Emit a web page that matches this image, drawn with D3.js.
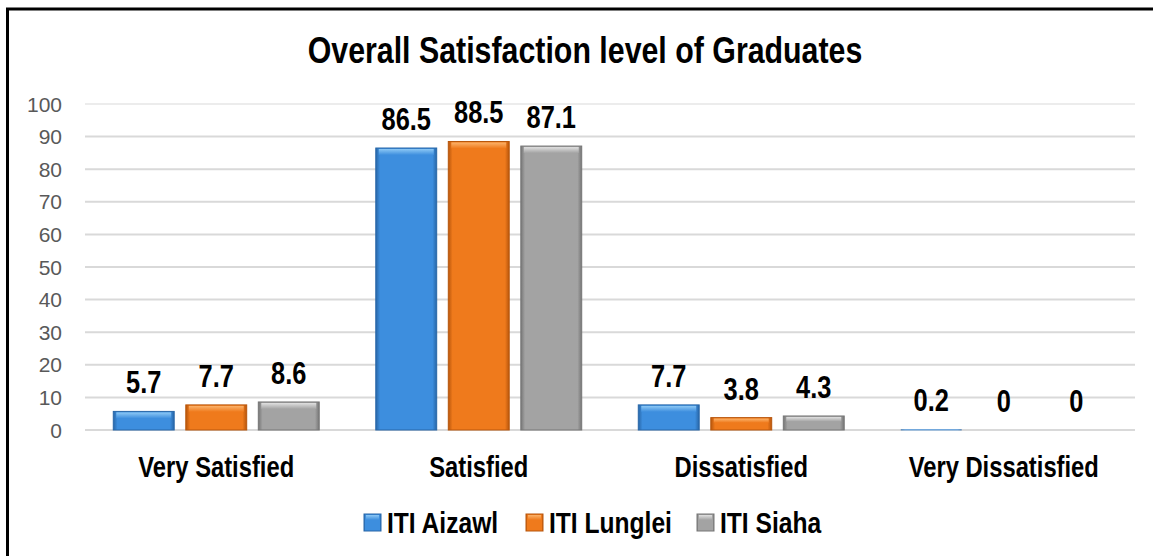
<!DOCTYPE html>
<html>
<head>
  <meta charset="utf-8">
  <title>Overall Satisfaction level of Graduates</title>
  <script src="https://d3js.org/d3.v7.min.js"></script>
  <style>
    body {
      margin: 0;
      background: #fff;
    }
    .narrow {
      font-family: "Liberation Sans", Arial, sans-serif;
      font-weight: bold;
      fill: #000;
    }
    .tick-label {
      font-family: "Liberation Sans", Arial, sans-serif;
      font-size: 21px;
      fill: #595959;
    }
  </style>
</head>
<body>
  <div id="chart"></div>
  <script>
    const categories = ["Very Satisfied", "Satisfied", "Dissatisfied", "Very Dissatisfied"];
    const seriesNames = ["ITI Aizawl", "ITI Lunglei", "ITI Siaha"];
    const aizawl = [5.7, 86.5, 7.7, 0.2];
    const lunglei = [7.7, 88.5, 3.8, 0];
    const siaha = [8.6, 87.1, 4.3, 0];
    const yTicks = [0, 10, 20, 30, 40, 50, 60, 70, 80, 90, 100];

    const seriesValues = [aizawl, lunglei, siaha];
    // edge / body / highlight for the bevelled look
    const palette = [
      { edge: "#2867a8", body: "#3d8ede", light: "#8cc8f5" },
      { edge: "#b8560c", body: "#ef7a1c", light: "#fbb26a" },
      { edge: "#767676", body: "#a3a3a3", light: "#e0e0e0" }
    ];

    const W = 1153, H = 556;
    const NARROW = 0.82; // squeeze Liberation Sans into an Arial Narrow look
    const svg = d3.select("#chart").append("svg")
      .attr("width", W)
      .attr("height", H);

    // place a condensed bold text at (x, y)
    function narrowAt(sel, x, y) {
      sel.attr("class", "narrow")
        .attr("transform", function (d, i) {
          const xx = typeof x === "function" ? x(d, i) : x;
          const yy = typeof y === "function" ? y(d, i) : y;
          return `translate(${xx},${yy}) scale(${NARROW},1)`;
        });
    }

    // gradients
    const defs = svg.append("defs");
    palette.forEach((c, i) => {
      const g = defs.append("linearGradient").attr("id", "body" + i)
        .attr("x1", 0).attr("x2", 1).attr("y1", 0).attr("y2", 0);
      g.append("stop").attr("offset", "0%").attr("stop-color", c.edge);
      g.append("stop").attr("offset", "7%").attr("stop-color", c.body);
      g.append("stop").attr("offset", "50%").attr("stop-color", c.body);
      g.append("stop").attr("offset", "93%").attr("stop-color", c.body);
      g.append("stop").attr("offset", "100%").attr("stop-color", c.edge);
      const t = defs.append("linearGradient").attr("id", "top" + i)
        .attr("x1", 0).attr("x2", 0).attr("y1", 0).attr("y2", 1);
      t.append("stop").attr("offset", "0%").attr("stop-color", c.light);
      t.append("stop").attr("offset", "100%").attr("stop-color", c.body);
    });

    // frame (only top and left edges are in view)
    svg.append("line").attr("x1", 6).attr("x2", W).attr("y1", 9).attr("y2", 9)
      .attr("stroke", "#000").attr("stroke-width", 3);
    svg.append("line").attr("x1", 7.5).attr("x2", 7.5).attr("y1", 8).attr("y2", H)
      .attr("stroke", "#000").attr("stroke-width", 3);

    const x0 = d3.scaleBand().domain(categories).range([85, 1135]).paddingInner(0).paddingOuter(0);
    const x1 = d3.scaleBand().domain(seriesNames).range([0, x0.bandwidth()])
      .paddingInner(0.16).paddingOuter(0.39);
    const y = d3.scaleLinear().domain([0, 100]).range([430, 104]);

    // grid
    svg.append("g").selectAll("line")
      .data(yTicks)
      .join("line")
      .attr("x1", 85).attr("x2", 1135)
      .attr("y1", d => y(d)).attr("y2", d => y(d))
      .attr("stroke", "#d9d9d9")
      .attr("stroke-width", d => d === 100 ? 1 : 2);

    svg.append("g").selectAll("text")
      .data(yTicks)
      .join("text")
      .attr("class", "tick-label")
      .attr("x", 62)
      .attr("y", d => y(d))
      .attr("dy", "0.36em")
      .attr("text-anchor", "end")
      .text(d => d);

    // title
    svg.append("text")
      .call(narrowAt, 585, 63)
      .attr("text-anchor", "middle")
      .style("font-size", "37px")
      .text("Overall Satisfaction level of Graduates");

    // bars
    const groups = svg.append("g").selectAll("g")
      .data(categories)
      .join("g")
      .attr("transform", d => `translate(${x0(d)},0)`);

    const bars = groups.selectAll("g")
      .data((cat, ci) => seriesNames.map((s, si) => ({ cat, s, si, v: seriesValues[si][ci] })))
      .join("g");

    bars.append("rect")
      .attr("x", d => x1(d.s))
      .attr("y", d => y(d.v))
      .attr("width", x1.bandwidth())
      .attr("height", d => Math.max(y(0) - y(d.v), d.v > 0 ? 1 : 0))
      .attr("fill", d => `url(#body${d.si})`)
      .attr("stroke", d => palette[d.si].edge)
      .attr("stroke-width", d => d.v > 0.5 ? 1 : 0);

    bars.filter(d => y(0) - y(d.v) > 3)
      .append("rect")
      .attr("x", d => x1(d.s) + 3)
      .attr("y", d => y(d.v) + 1)
      .attr("width", x1.bandwidth() - 6)
      .attr("height", d => Math.min(6, (y(0) - y(d.v)) / 3))
      .attr("fill", d => `url(#top${d.si})`);

    bars.append("text")
      .call(narrowAt, d => x1(d.s) + x1.bandwidth() / 2, d => y(d.v) - 18)
      .attr("text-anchor", "middle")
      .style("font-size", "31px")
      .text(d => d.v);

    // category labels
    svg.append("g").selectAll("text")
      .data(categories)
      .join("text")
      .call(narrowAt, d => x0(d) + x0.bandwidth() / 2, 477)
      .attr("text-anchor", "middle")
      .style("font-size", "29px")
      .text(d => d);

    // legend
    const legendX = [364, 526, 697];
    const legend = svg.append("g").selectAll("g")
      .data(seriesNames)
      .join("g")
      .attr("transform", (d, i) => `translate(${legendX[i]},514)`);

    legend.append("rect")
      .attr("width", 17).attr("height", 17)
      .attr("fill", (d, i) => `url(#body${i})`)
      .attr("stroke", (d, i) => palette[i].edge)
      .attr("stroke-width", 1);

    legend.append("rect")
      .attr("x", 2).attr("y", 1).attr("width", 13).attr("height", 5)
      .attr("fill", (d, i) => `url(#top${i})`);

    legend.append("text")
      .call(narrowAt, 23, 19)
      .style("font-size", "30px")
      .text(d => d);
  </script>
</body>
</html>
